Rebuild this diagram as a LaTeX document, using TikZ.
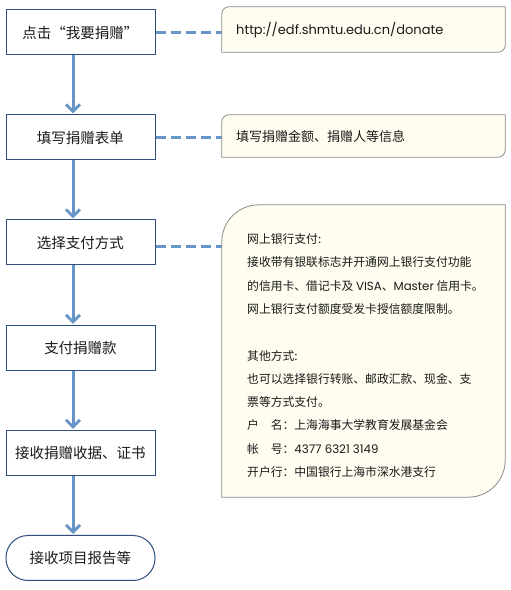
\documentclass[tikz,border=0pt]{standalone}
\usepackage{fontspec}
\setmainfont{Noto Sans CJK SC}
\newfontfamily\lat{Poppins}
\usetikzlibrary{arrows.meta,calc}
\definecolor{flow}{HTML}{6895C8}
\definecolor{edge}{HTML}{2F4F7F}
\definecolor{cream}{HTML}{FFFDF0}
\definecolor{note}{HTML}{8A8A8A}
\definecolor{ink}{HTML}{1A1A1A}
\newcommand\notecorners[2]{%
  \draw[notebox] (#1.south west) -- ([yshift=-#2]#1.north west)
    arc[start angle=180,end angle=90,radius=#2] -- (#1.north east)
    -- ([yshift=#2]#1.south east) arc[start angle=0,end angle=-90,radius=#2] -- cycle;}
\begin{document}
\begin{tikzpicture}[x=1pt,y=1pt,
  stepbox/.style={draw=edge, line width=1pt, fill=white, minimum width=149pt, minimum height=45pt, inner sep=0pt, font=\fontsize{14.5}{17}\selectfont, text=ink},
  endbox/.style={stepbox, rounded corners=22pt},
  flowarrow/.style={draw=flow, line width=3pt, -{Straight Barb[length=7pt,width=14pt]}, shorten >=1pt},
  dashlink/.style={draw=flow, line width=3pt, dash pattern=on 10pt off 5pt},
  notebox/.style={draw=note, line width=0.8pt, fill=cream},
  frame/.style={draw=none, inner sep=0pt, minimum width=283pt},
  notetext/.style={anchor=west, inner sep=0pt, text=ink, font=\fontsize{13}{15}\selectfont},
  smalltext/.style={anchor=west, inner sep=0pt, text=ink, font=\fontsize{11.8}{14}\selectfont},
]
\useasboundingbox (0,0) rectangle (511,590);
\fill[white] (0,0) rectangle (511,590);

% left flow
\node[stepbox] (b1) at (80.5,557.5) {点击“我要捐赠”};
\node[stepbox] (b2) at (80.5,452.5) {填写捐赠表单};
\node[stepbox] (b3) at (80.5,347.5) {选择支付方式};
\node[stepbox] (b4) at (80.5,242) {支付捐赠款};
\node[stepbox] (b5) at (80.5,137) {接收捐赠收据、证书};
\node[endbox] (b6) at (80.5,32) {接收项目报告等};

% note frames
\node[frame, minimum height=45pt] (na) at (363.5,560.5) {};
\node[frame, minimum height=42pt] (nb) at (363.5,454) {};
\node[frame, minimum height=292pt] (nc) at (363.5,239) {};

% dashed links
\coordinate (d3) at ([yshift=-4pt]b3.east);
\draw[dashlink] (b1.east) -- (na.west |- b1.east);
\draw[dashlink] (b2.east) -- (nb.west |- b2.east);
\draw[dashlink] (d3) -- (nc.west |- d3);

% arrows
\coordinate (ax) at (73,0);
\draw[flowarrow] (b1.south -| ax) -- (b2.north -| ax);
\draw[flowarrow] (b2.south -| ax) -- (b3.north -| ax);
\draw[flowarrow] (b3.south -| ax) -- (b4.north -| ax);
\draw[flowarrow] (b4.south -| ax) -- (b5.north -| ax);
\draw[flowarrow] (b5.south -| ax) -- (b6.north -| ax);

% note boxes
\notecorners{na}{7pt}
\notecorners{nb}{7pt}
\notecorners{nc}{37pt}

% note texts
\node[notetext] (ta) at (236,560) {\lat http://edf.shmtu.edu.cn/donate};
\node[notetext] (tb) at (236,453) {填写捐赠金额、捐赠人等信息};

\node[smalltext] (c1) at (247,351) {网上银行支付:};
\node[smalltext] (c2) at (247,327.7) {接收带有银联标志并开通网上银行支付功能};
\node[smalltext] (c3) at (247,304.4) {的信用卡、借记卡及 {\lat VISA}、{\lat Master} 信用卡。};
\node[smalltext] (c4) at (247,281.1) {网上银行支付额度受发卡授信额度限制。};
\node[smalltext] (c5) at (247,234.5) {其他方式:};
\node[smalltext] (c6) at (247,211.2) {也可以选择银行转账、邮政汇款、现金、支};
\node[smalltext] (c7) at (247,187.9) {票等方式支付。};
\node[smalltext] (c8) at (247,164.6) {户\hspace{11.8pt}名：上海海事大学教育发展基金会};
\node[smalltext] (c9) at (247,141.3) {帐\hspace{11.8pt}号：{\lat 4377 6321 3149}};
\node[smalltext] (c10) at (247,118) {开户行：中国银行上海市深水港支行};
\end{tikzpicture}
\end{document}
